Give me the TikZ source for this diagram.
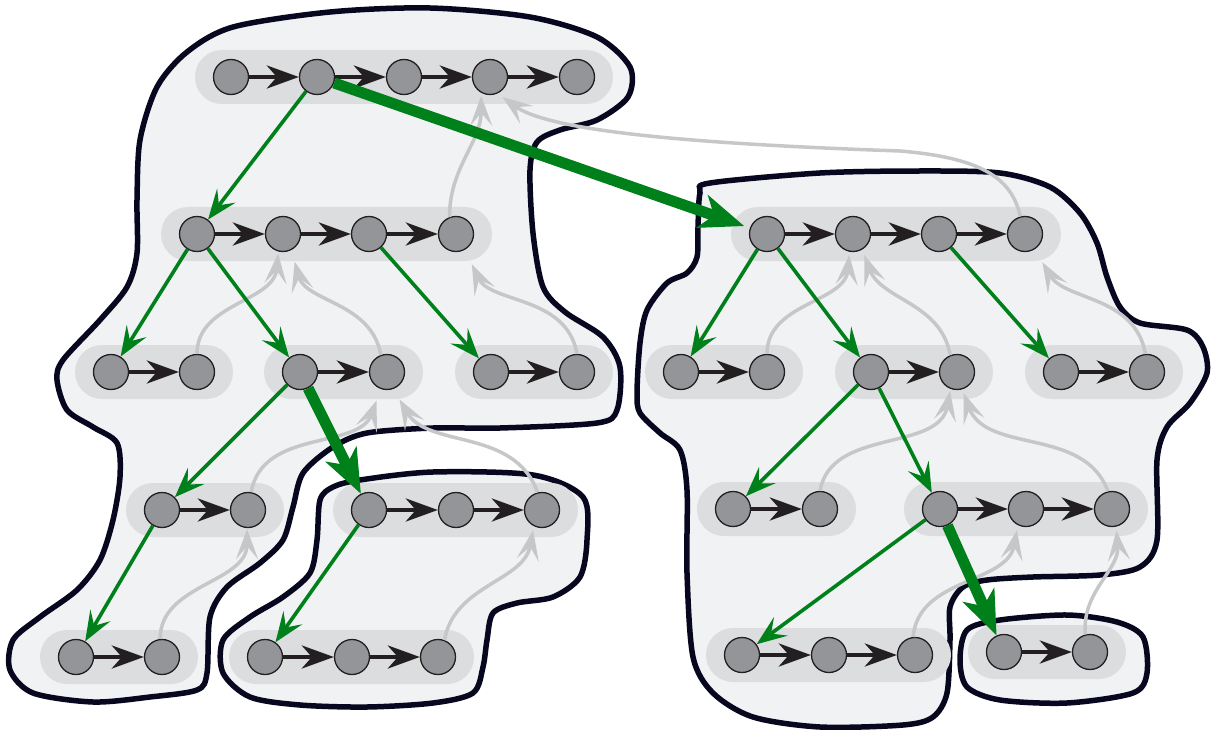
\documentclass[tikz,border=0pt]{standalone}
\usepackage{xcolor}
\usepackage{tikz}
\usetikzlibrary{arrows.meta, positioning, calc, backgrounds}

\definecolor{blobfill}{HTML}{F1F2F4}
\definecolor{blobline}{HTML}{07071F}
\definecolor{lanefill}{HTML}{DCDDDF}
\definecolor{nodegray}{HTML}{939598}
\definecolor{inkdark}{HTML}{231F20}
\definecolor{treegreen}{HTML}{00801A}
\definecolor{backgray}{HTML}{C6C7C9}

\begin{document}
\begin{tikzpicture}[x=1pt, y=1pt,
    vtx/.style={draw=inkdark, line width=1.3pt, circle, fill=nodegray, minimum size=35pt, inner sep=0pt},
    seq/.style={-{Stealth[length=32pt, width=23pt, inset=10pt]}, line width=4.2pt, draw=inkdark},
    spawn/.style={-{Stealth[length=30pt, width=23pt, inset=12pt]}, line width=3.6pt, draw=treegreen},
    bigjump/.style={-{Stealth[length=44pt, width=34pt, inset=12pt]}, line width=11pt, draw=treegreen},
    backref/.style={-{Stealth[length=30pt, width=22pt, inset=13pt]}, line width=3.5pt, draw=backgray},
    lane/.style={fill=lanefill, rounded corners=27pt},
    blob/.style={draw=blobline, line width=5.5pt, fill=blobfill}]
    \useasboundingbox (0,0) rectangle (1212,-730);

    % 左树
    \node[vtx] (a1) at (231,-77) {};
    \node[vtx] (a2) at (317,-77) {};
    \node[vtx] (a3) at (404,-77) {};
    \node[vtx] (a4) at (490,-77) {};
    \node[vtx] (a5) at (577,-77) {};
    \node[vtx] (b1) at (197,-234) {};
    \node[vtx] (b2) at (283,-234) {};
    \node[vtx] (b3) at (369,-234) {};
    \node[vtx] (b4) at (456,-234) {};
    \node[vtx] (c1) at (111,-372) {};
    \node[vtx] (c2) at (197,-372) {};
    \node[vtx] (d1) at (300,-372) {};
    \node[vtx] (d2) at (387,-372) {};
    \node[vtx] (e1) at (491,-372) {};
    \node[vtx] (e2) at (577,-372) {};
    \node[vtx] (f1) at (162,-510) {};
    \node[vtx] (f2) at (248,-510) {};
    \node[vtx] (g1) at (369,-510) {};
    \node[vtx] (g2) at (456,-510) {};
    \node[vtx] (g3) at (542,-510) {};
    \node[vtx] (h1) at (76,-657) {};
    \node[vtx] (h2) at (162,-657) {};
    \node[vtx] (i1) at (265,-657) {};
    \node[vtx] (i2) at (352,-657) {};
    \node[vtx] (i3) at (438,-657) {};

    % 右树
    \node[vtx] (j1) at (767,-234) {};
    \node[vtx] (j2) at (853,-234) {};
    \node[vtx] (j3) at (939,-234) {};
    \node[vtx] (j4) at (1025,-234) {};
    \node[vtx] (k1) at (681,-372) {};
    \node[vtx] (k2) at (767,-372) {};
    \node[vtx] (l1) at (871,-372) {};
    \node[vtx] (l2) at (957,-372) {};
    \node[vtx] (m1) at (1061,-372) {};
    \node[vtx] (m2) at (1147,-372) {};
    \node[vtx] (n1) at (733,-509) {};
    \node[vtx] (n2) at (820,-509) {};
    \node[vtx] (o1) at (940,-509) {};
    \node[vtx] (o2) at (1026,-509) {};
    \node[vtx] (o3) at (1112,-509) {};
    \node[vtx] (p1) at (742,-655) {};
    \node[vtx] (p2) at (829,-655) {};
    \node[vtx] (p3) at (915,-655) {};
    \node[vtx] (q1) at (1004,-652) {};
    \node[vtx] (q2) at (1090,-652) {};

    % 外框和底条
    \begin{scope}[on background layer]
        \draw[blob] plot[smooth cycle] coordinates {(330,-12) (430,-8) (530,-17) (597,-37) (630,-67) (628,-97) (597,-120) (560,-130) (537,-142) (530,-170) (533,-233) (543,-287) (565,-312) (603,-337) (620,-367) (617,-410) (597,-423) (500,-428) (433,-428) (367,-433) (333,-447) (303,-473) (293,-507) (283,-540) (260,-563) (227,-587) (210,-617) (207,-673) (197,-690) (150,-697) (93,-702) (33,-693) (10,-670) (13,-640) (40,-617) (77,-590) (100,-560) (113,-520) (120,-477) (117,-443) (93,-427) (67,-410) (57,-380) (63,-360) (100,-320) (127,-287) (137,-253) (137,-200) (140,-140) (157,-87) (187,-52) (233,-27)};
        \draw[blob] plot[smooth cycle] coordinates {(360,-480) (433,-472) (533,-475) (583,-497) (587,-540) (580,-577) (553,-597) (517,-603) (493,-613) (487,-640) (483,-667) (473,-693) (433,-703) (367,-707) (300,-705) (250,-697) (223,-673) (223,-640) (250,-617) (283,-597) (310,-573) (317,-540) (320,-500) (333,-487)};
        \draw[blob] plot[smooth cycle] coordinates {(710,-183) (820,-173) (920,-171) (1000,-173) (1050,-187) (1080,-213) (1097,-243) (1107,-277) (1120,-307) (1140,-323) (1187,-330) (1203,-347) (1207,-373) (1190,-403) (1167,-427) (1157,-460) (1157,-540) (1140,-567) (1100,-575) (1033,-577) (987,-580) (963,-587) (950,-607) (950,-640) (947,-693) (933,-717) (903,-725) (820,-727) (753,-717) (713,-693) (693,-657) (687,-573) (687,-490) (680,-450) (660,-433) (640,-413) (637,-393) (640,-343) (647,-310) (667,-283) (687,-273) (697,-257) (698,-227) (700,-193)};
        \draw[blob] plot[smooth cycle] coordinates {(967,-630) (1000,-620) (1067,-615) (1117,-622) (1143,-637) (1147,-673) (1133,-693) (1067,-703) (1000,-700) (967,-687) (960,-660)};

        \fill[lane] ($(a1)+(-36,-27)$) rectangle ($(a5)+(36,27)$);
        \fill[lane] ($(b1)+(-36,-27)$) rectangle ($(b4)+(36,27)$);
        \fill[lane] ($(c1)+(-36,-27)$) rectangle ($(c2)+(36,27)$);
        \fill[lane] ($(d1)+(-36,-27)$) rectangle ($(d2)+(36,27)$);
        \fill[lane] ($(e1)+(-36,-27)$) rectangle ($(e2)+(36,27)$);
        \fill[lane] ($(f1)+(-36,-27)$) rectangle ($(f2)+(36,27)$);
        \fill[lane] ($(g1)+(-36,-27)$) rectangle ($(g3)+(36,27)$);
        \fill[lane] ($(h1)+(-36,-27)$) rectangle ($(h2)+(36,27)$);
        \fill[lane] ($(i1)+(-36,-27)$) rectangle ($(i3)+(36,27)$);
        \fill[lane] ($(j1)+(-36,-27)$) rectangle ($(j4)+(36,27)$);
        \fill[lane] ($(k1)+(-36,-27)$) rectangle ($(k2)+(36,27)$);
        \fill[lane] ($(l1)+(-36,-27)$) rectangle ($(l2)+(36,27)$);
        \fill[lane] ($(m1)+(-36,-27)$) rectangle ($(m2)+(36,27)$);
        \fill[lane] ($(n1)+(-36,-27)$) rectangle ($(n2)+(36,27)$);
        \fill[lane] ($(o1)+(-36,-27)$) rectangle ($(o3)+(36,27)$);
        \fill[lane] ($(p1)+(-36,-27)$) rectangle ($(p3)+(36,27)$);
        \fill[lane] ($(q1)+(-36,-27)$) rectangle ($(q2)+(36,27)$);
    \end{scope}

    % 链
    \draw[seq] (a1) -- (a2); \draw[seq] (a2) -- (a3); \draw[seq] (a3) -- (a4); \draw[seq] (a4) -- (a5);
    \draw[seq] (b1) -- (b2); \draw[seq] (b2) -- (b3); \draw[seq] (b3) -- (b4);
    \draw[seq] (c1) -- (c2);
    \draw[seq] (d1) -- (d2);
    \draw[seq] (e1) -- (e2);
    \draw[seq] (f1) -- (f2);
    \draw[seq] (g1) -- (g2); \draw[seq] (g2) -- (g3);
    \draw[seq] (h1) -- (h2);
    \draw[seq] (i1) -- (i2); \draw[seq] (i2) -- (i3);
    \draw[seq] (j1) -- (j2); \draw[seq] (j2) -- (j3); \draw[seq] (j3) -- (j4);
    \draw[seq] (k1) -- (k2);
    \draw[seq] (l1) -- (l2);
    \draw[seq] (m1) -- (m2);
    \draw[seq] (n1) -- (n2);
    \draw[seq] (o1) -- (o2); \draw[seq] (o2) -- (o3);
    \draw[seq] (p1) -- (p2); \draw[seq] (p2) -- (p3);
    \draw[seq] (q1) -- (q2);

    % 回指
    \draw[backref, shorten >=3pt] (b4.111) to[out=90, in=-90] (a4.-119);
    \draw[backref, shorten >=6pt] (j4.105) .. controls (1012,-180) and (985,-158) .. (900,-151)
        .. controls (700,-144) and (550,-132) .. (a4.-65);
    \draw[backref, shorten >=2pt] (c2.90) to[out=90, in=-95] (b2.-105);
    \draw[backref, shorten >=12pt] (d2.110) to[out=100, in=-75] (b2.-62);
    \draw[backref, shorten >=16pt] (e2.90) to[out=100, in=-65] (b4.-60);
    \draw[backref, shorten >=12pt] (f2.80) to[out=80, in=-110] (d2.-110);
    \draw[backref, shorten >=12pt] (g3.104) to[out=110, in=-60] (d2.-69);
    \draw[backref, shorten >=1pt] (h2.96) to[out=90, in=-90] (f2.-93);
    \draw[backref, shorten >=4pt] (i3.69) to[out=80, in=-100] (g3.-117);
    \draw[backref, shorten >=3pt] (k2.90) to[out=90, in=-95] (j2.-101);
    \draw[backref, shorten >=6pt] (l2.112) to[out=100, in=-70] (j2.-59);
    \draw[backref, shorten >=15pt] (m2.95) to[out=100, in=-60] (j4.-57);
    \draw[backref, shorten >=2pt] (n2.90) to[out=80, in=-100] (l2.-111);
    \draw[backref, shorten >=4pt] (o3.103) to[out=110, in=-70] (l2.-73);
    \draw[backref, shorten >=5pt] (p3.96) to[out=85, in=-100] (o2.-117);
    \draw[backref, shorten >=4pt] (q2.105) to[out=95, in=-85] (o3.-77);

    % 树边
    \draw[spawn] (a2) -- (b1);
    \draw[spawn] (b1) -- (c1);
    \draw[spawn] (b1) -- (d1);
    \draw[spawn] (b3) -- (e1);
    \draw[spawn] (d1) -- (f1);
    \draw[spawn] (f1) -- (h1);
    \draw[spawn] (g1) -- (i1);
    \draw[spawn] (j1) -- (k1);
    \draw[spawn] (j1) -- (l1);
    \draw[spawn] (j3) -- (m1);
    \draw[spawn] (l1) -- (n1);
    \draw[spawn] (l1) -- (o1);
    \draw[spawn] (o1) -- (p1);

    % 跨块
    \draw[bigjump, shorten >=6pt] (a2) -- (j1);
    \draw[bigjump] (d1) -- (g1);
    \draw[bigjump] (o1) -- (q1);
\end{tikzpicture}
\end{document}
